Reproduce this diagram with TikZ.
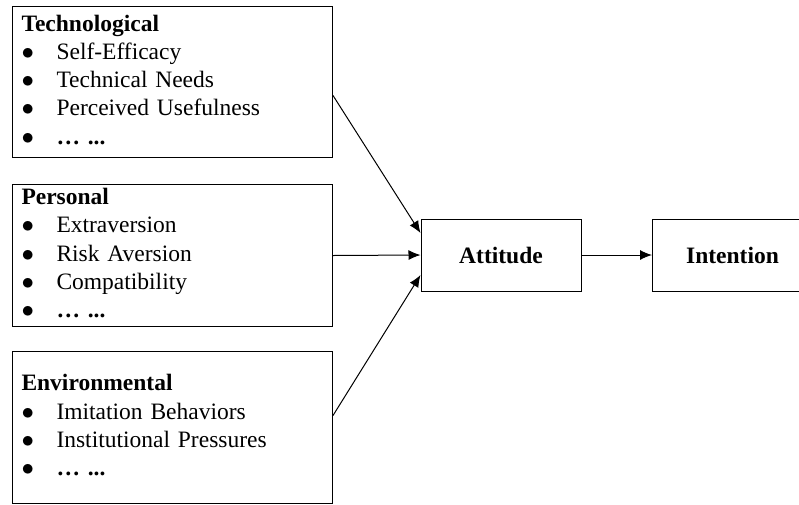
\documentclass[tikz,border=0pt]{standalone}
\usepackage{fontspec}
\setmainfont{Liberation Serif}
\usetikzlibrary{arrows.meta}
\newcommand{\fsize}{\fontsize{23.5}{28.2}\selectfont}
\newcommand{\blist}[2]{%
  \begin{tabular}{@{}p{35pt}@{}l@{}}
    \multicolumn{2}{@{}l@{}}{\textbf{#1}}\\ #2
  \end{tabular}}

\begin{document}
\begin{tikzpicture}[x=1pt, y=-1pt, line width=1pt,
  every node/.style={font=\fsize},
  factor/.style={draw, anchor=north west, inner xsep=9pt, inner ysep=0pt,
    text width=302pt, align=left},
  stage/.style={draw, minimum width=160pt, minimum height=72pt, font=\fsize\bfseries},
  link/.style={-{Latex[length=12pt,width=10pt]}}]
  \clip (0,0) rectangle (799,504);
  % factor boxes
  \node[factor, minimum height=151pt] (tech) at (12,6) {\blist{Technological}{%
    $\bullet$ & Self-Efficacy\\
    $\bullet$ & Technical Needs\\
    $\bullet$ & Perceived Usefulness\\
    $\bullet$ & \textbf{…\ ...}}};
  \node[factor, minimum height=142pt] (pers) at (12,184) {\blist{Personal}{%
    $\bullet$ & Extraversion\\
    $\bullet$ & Risk Aversion\\
    $\bullet$ & Compatibility\\
    $\bullet$ & \textbf{…\ ...}}};
  \node[factor, minimum height=152pt] (env) at (12,351) {\blist{Environmental}{%
    $\bullet$ & Imitation Behaviors\\
    $\bullet$ & Institutional Pressures\\
    $\bullet$ & \textbf{…\ ...}}};
  % attitude and intention
  \node[stage] (att) at (501,255) {Attitude};
  \node[stage, anchor=west] (intn) at (652,255) {Intention};
  % arrows
  \draw[link] ([yshift=-13.5pt]tech.east) -- ([yshift=22pt]att.west);
  \draw[link] (pers.east) -- (att.west);
  \draw[link] ([yshift=12pt]env.east) -- ([yshift=-20pt]att.west);
  \draw[link] (att.east) -- (intn.west);
\end{tikzpicture}
\end{document}
